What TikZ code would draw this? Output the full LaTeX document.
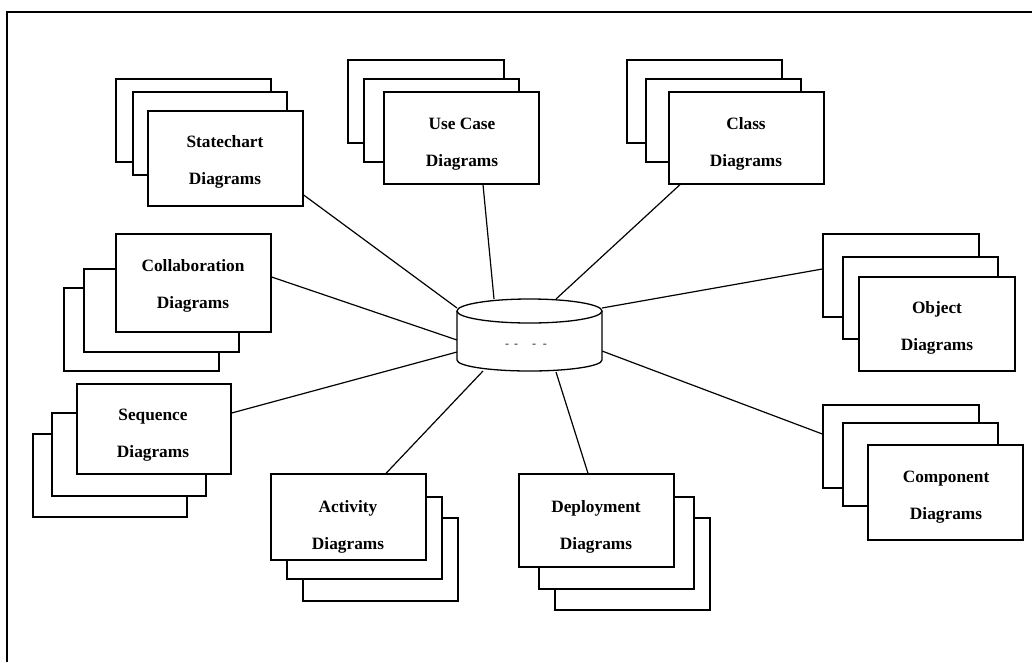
\documentclass[tikz,border=0pt]{standalone}
\usepackage{fontspec}
\setmainfont{Liberation Serif}
\begin{document}
\begin{tikzpicture}[x=1pt,y=-1pt,
  pg/.style={draw=black,fill=white,line width=1.3pt,inner sep=0pt,minimum width=155pt,minimum height=83pt},
  txt/.style={align=center,inner sep=0pt,font=\fontsize{17.3}{37}\selectfont\bfseries},
  link/.style={draw=black,line width=1.2pt},
  cyl/.style={draw=black,fill=white,line width=1.3pt}]
\useasboundingbox (0,0) rectangle (1032,662);
\draw[line width=1.5pt] (7,662) -- (7,12) -- (1032,12);

% cylinder boundary points
\coordinate (p-sc) at (457,308);
\coordinate (p-cb) at (457,340);
\coordinate (p-sq) at (457,352);
\coordinate (p-uc) at (494,299);
\coordinate (p-cl) at (556,299);
\coordinate (p-ob) at (602,308);
\coordinate (p-co) at (602,351);
\coordinate (p-ac) at (483,371);
\coordinate (p-de) at (556,372);

% Statechart
\node[pg] (sc3) at (193.5,120.5) {};
\node[pg,minimum width=154pt] (sc2) at (210,133.5) {};
\node[pg,minimum height=95pt] (sc1) at (225.5,158.5) {};
\node[txt] (sct) at (225,162.4) {Statechart\\Diagrams};
% Use Case
\node[pg,minimum width=156pt] (uc3) at (426,101.5) {};
\node[pg] (uc2) at (441.5,120.5) {};
\node[pg,minimum height=92pt] (uc1) at (461.5,138) {};
\node[txt] (uct) at (462,144.4) {Use Case\\Diagrams};
% Class
\node[pg] (cl3) at (704.5,101.5) {};
\node[pg] (cl2) at (723.5,120.5) {};
\node[pg,minimum height=92pt] (cl1) at (746.5,138) {};
\node[txt] (clt) at (746,144.4) {Class\\Diagrams};
% Object
\node[pg,minimum width=156pt] (ob3) at (901,275.5) {};
\node[pg,minimum height=82pt] (ob2) at (920.5,298) {};
\node[pg,minimum width=156pt,minimum height=94pt] (ob1) at (937,324) {};
\node[txt] (obt) at (937,327.9) {Object\\Diagrams};
% Component
\node[pg,minimum width=156pt] (co3) at (901,446.5) {};
\node[pg] (co2) at (920.5,464.5) {};
\node[pg,minimum height=95pt] (co1) at (945.5,492.5) {};
\node[txt] (cot) at (946,496.9) {Component\\Diagrams};
% Activity
\node[pg] (ac3) at (380.5,559.5) {};
\node[pg,minimum height=82pt] (ac2) at (364.5,538) {};
\node[pg,minimum height=86pt] (ac1) at (348.5,517) {};
\node[txt] (act) at (348,526.4) {Activity\\Diagrams};
% Deployment
\node[pg,minimum height=92pt] (de3) at (632.5,564) {};
\node[pg,minimum height=92pt] (de2) at (616.5,543) {};
\node[pg,minimum height=93pt] (de1) at (596.5,520.5) {};
\node[txt] (det) at (596,526.4) {Deployment\\Diagrams};
% Collaboration
\node[pg] (cb3) at (141.5,329.5) {};
\node[pg] (cb2) at (161.5,310.5) {};
\node[pg,minimum height=98pt] (cb1) at (193.5,283) {};
\node[txt] (cbt) at (193,285.4) {Collaboration\\Diagrams};
% Sequence
\node[pg,minimum width=154pt] (sq3) at (110,475.5) {};
\node[pg,minimum width=154pt] (sq2) at (129,454.5) {};
\node[pg,minimum width=154pt,minimum height=90pt] (sq1) at (154,429) {};
\node[txt] (sqt) at (153,435.4) {Sequence\\Diagrams};

% connectors
\draw[link] ([yshift=-36.5pt]sc1.east) -- (p-sc);
\draw[link] ([xshift=21.5pt]uc1.south) -- (p-uc);
\draw[link] ([xshift=-66.5pt]cl1.south) -- (p-cl);
\draw[link] ([yshift=6.5pt]ob3.west) -- (p-ob);
\draw[link] ([yshift=12.5pt]co3.west) -- (p-co);
\draw[link] ([xshift=37.5pt]ac1.north) -- (p-ac);
\draw[link] ([xshift=-8.5pt]de1.north) -- (p-de);
\draw[link] ([yshift=6pt]cb1.east) -- (p-cb);
\draw[link] ([yshift=16pt]sq1.east) -- (p-sq);

% cylinder
\draw[cyl] (457,311) -- (457,360) arc[start angle=180,end angle=0,x radius=72.5,y radius=11] -- (602,311);
\draw[cyl] (529.5,311) ellipse[x radius=72.5,y radius=12];
\node[inner sep=0pt,text=black!85,font=\fontsize{12}{12}\selectfont] (dbt) at (526,346) {-\hspace{5pt}-\hspace{14pt}-\hspace{7pt}-};
\end{tikzpicture}
\end{document}
